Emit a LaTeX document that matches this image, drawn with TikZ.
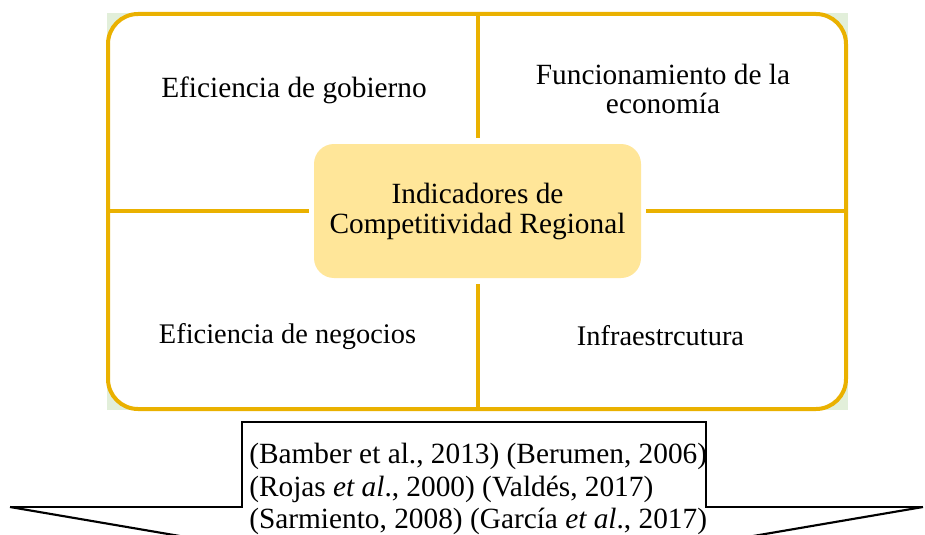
\documentclass[tikz,border=0pt]{standalone}
\usepackage{fontspec}
\setmainfont{Liberation Serif}
\definecolor{gold}{RGB}{234,177,0}
\definecolor{bggreen}{RGB}{226,239,218}
\definecolor{boxfill}{RGB}{255,230,153}
\tikzset{
  frameline/.style={draw=gold, line width=3pt},
  label/.style={inner sep=0pt, align=center},
  smalllabel/.style={label, font=\fontsize{21.3}{22}\selectfont},
  calloutline/.style={draw=black, line width=1.6pt, line join=miter},
}
\begin{document}
\begin{tikzpicture}[x=0.75pt, y=-0.75pt, font=\fontsize{22}{22}\selectfont]
\useasboundingbox (0,0) rectangle (925,535);
\fill[bggreen] (107,13) rectangle (848,410);
\node[frameline, fill=white, rectangle, rounded corners=22.5pt, minimum width=553.5pt, minimum height=296.25pt, inner sep=0pt] (frame) at (477,211.5) {};
\node[rectangle, fill=boxfill, rounded corners=15pt, minimum width=245.25pt, minimum height=100.5pt, inner sep=0pt, align=center] (center) at (477.5,211) {Indicadores de\\[0.5pt]Competitividad Regional};
\draw[frameline, shorten >=4.5pt] (frame.north -| center.north) -- (center.north);
\draw[frameline, shorten >=4.5pt] (frame.south -| center.south) -- (center.south);
\draw[frameline, shorten >=3.75pt] (frame.west |- center.west) -- (center.west);
\draw[frameline, shorten >=3.75pt] (frame.east |- center.east) -- (center.east);
\node[label] (gob) at (294,90) {Eficiencia de gobierno};
\node[label] (eco) at (663,89) {Funcionamiento de la\\economía};
\node[smalllabel] (neg) at (287.5,337) {Eficiencia de negocios};
\node[smalllabel] (inf) at (660.5,336) {Infraestrcutura};
\begin{scope}
\clip (0,0) rectangle (925,535);
\coordinate (cl) at (10,507);
\coordinate (cr) at (923,507);
\coordinate (tip) at (466.5,585);
\draw[calloutline] (cl) -- (242,507) -- (242,422) -- (706,422) -- (706,507) -- (cr);
\draw[calloutline] (cl) -- (tip) -- (cr);
\end{scope}
\node[inner sep=0pt, align=left, anchor=west, font=\fontsize{22}{24.4}\selectfont] (refs) at (249,489) {(Bamber et al., 2013) (Berumen, 2006)\\(Rojas \textit{et al}., 2000) (Valdés, 2017)\\(Sarmiento, 2008) (García \textit{et al}., 2017)};
\end{tikzpicture}
\end{document}
